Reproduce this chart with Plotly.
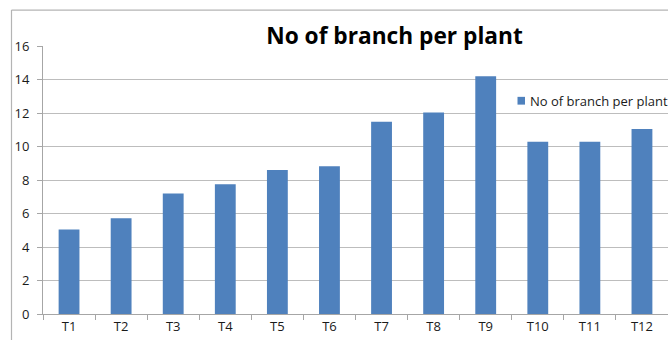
import plotly.graph_objects as go

treatments = ["T1", "T2", "T3", "T4", "T5", "T6", "T7", "T8", "T9", "T10", "T11", "T12"]
branches = [5.05, 5.72, 7.2, 7.75, 8.6, 8.82, 11.48, 12.03, 14.2, 10.28, 10.28, 11.05]
series_name = "No of branch per plant"
y_ticks = [0, 2, 4, 6, 8, 10, 12, 14, 16]

W, H = 668, 340
ML, MR, MT, MB = 43, 0, 45.5, 25.7
plot_w = W - ML - MR
plot_h = H - MT - MB
bar_color = "#4f81bd"

def px_to_paper_x(px):
    return (px - ML) / plot_w

def px_to_paper_y(py):
    return (H - MB - py) / plot_h

font_family = "'Open Sans', 'Liberation Sans', sans-serif"

fig = go.Figure(
    go.Bar(
        x=treatments,
        y=branches,
        name=series_name,
        marker=dict(color=bar_color, line=dict(width=0)),
        width=0.4,
        showlegend=False,
    )
)

# outer chart frame (left and top edges)
frame_color = "#b4b4b4"
fx = px_to_paper_x(11.5)
fy_top = px_to_paper_y(9.5)
fy_bot = px_to_paper_y(H + 5)
fig.add_shape(type="line", xref="paper", yref="paper", x0=fx, x1=fx, y0=fy_bot, y1=fy_top,
              line=dict(color=frame_color, width=1.2))
fig.add_shape(type="line", xref="paper", yref="paper", x0=fx, x1=px_to_paper_x(W + 5), y0=fy_top, y1=fy_top,
              line=dict(color=frame_color, width=1.2))

# legend key: small square swatch followed by the series name
fig.add_shape(type="rect", xref="paper", yref="paper",
              x0=px_to_paper_x(517.5), x1=px_to_paper_x(525),
              y0=px_to_paper_y(104.3), y1=px_to_paper_y(96.5),
              fillcolor=bar_color, line=dict(width=0))
fig.add_annotation(text=series_name, xref="paper", yref="paper",
                   x=px_to_paper_x(527.5), y=px_to_paper_y(100.5),
                   xanchor="left", yanchor="middle", showarrow=False,
                   font=dict(family=font_family, size=13, color="#1a1a1a"))

fig.update_layout(
    width=W,
    height=H,
    margin=dict(l=ML, r=MR, t=MT, b=MB, autoexpand=False),
    paper_bgcolor="white",
    plot_bgcolor="white",
    font=dict(family=font_family, size=13, color="#1a1a1a"),
    title=dict(
        text="<b>No of branch per plant</b>",
        x=px_to_paper_x(394.5), xref="paper", xanchor="center",
        y=1 - 36 / H, yref="container", yanchor="middle",
        font=dict(family=font_family, size=22.7, color="black"),
    ),
    showlegend=False,
    xaxis=dict(
        type="category",
        categoryorder="array",
        categoryarray=treatments,
        range=[-0.5, 11.5],
        showline=True, linecolor="#a6a6a6", linewidth=1,
        ticks="outside", tickson="boundaries", ticklen=5, tickcolor="#a6a6a6",
        showgrid=False,
        tickfont=dict(family=font_family, size=13, color="#1a1a1a"),
    ),
    yaxis=dict(
        range=[0, 16],
        tickvals=y_ticks,
        showline=True, linecolor="#a6a6a6", linewidth=1,
        ticks="outside", ticklen=5, tickcolor="#a6a6a6",
        showgrid=True, gridcolor="#bdbdbd", gridwidth=1,
        zeroline=False,
        ticklabelstandoff=5,
        tickfont=dict(family=font_family, size=13, color="#1a1a1a"),
    ),
)

fig.write_html("out.html")
